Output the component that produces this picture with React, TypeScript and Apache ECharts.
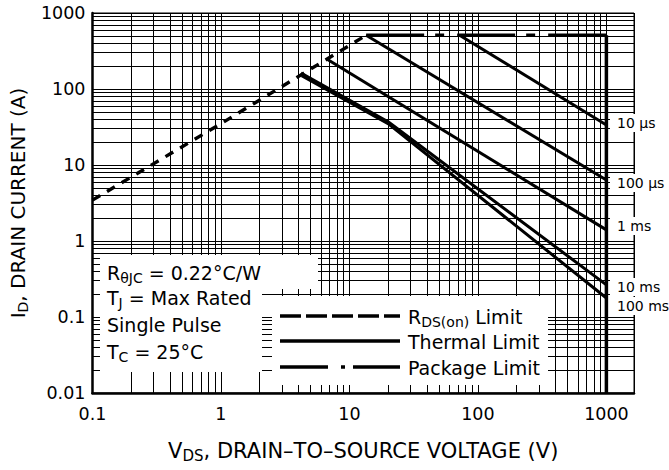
import React, { useEffect, useRef } from "react";
import * as echarts from "echarts";

// ---- axis ticks ----
const xTicks = [0.1, 1, 10, 100, 1000];
const yTicks = [0.01, 0.1, 1, 10, 100, 1000];
const X_MIN = 0.1;
const X_MAX = 1640;
const Y_MIN = 0.01;
const Y_MAX = 1000;
const xDecades = [0.1, 1, 10, 100];
const yDecades = [0.01, 0.1, 1, 10, 100];
const minorSteps = [2, 3, 4, 5, 6, 7, 8, 9];

// ---- curves (V, A) ----
const rdsLimit = [[0.1, 3.45], [1, 35], [13.5, 510]];
const packageLimit = [[13.5, 510], [1000, 510]];
const voltageLimit = [[1000, 510], [1000, 0.01]];
const t10us = [[72, 510], [1000, 33.6]];
const t100us = [[13.5, 510], [1000, 6.35]];
const t1ms = [[6.66, 248], [1000, 1.4]];
const t10ms = [[4.2, 162], [20, 37], [1000, 0.265]];
const t100ms = [[4.25, 150], [20, 35], [1000, 0.178]];

const pulseLabels = ["10 µs", "100 µs", "1 ms", "10 ms", "100 ms"];

const FONT = '"DejaVu Sans", sans-serif';

const xMinor = xDecades.flatMap((d) => minorSteps.map((m) => +(d * m).toPrecision(3)));
const yMinor = yDecades.flatMap((d) => minorSteps.map((m) => +(d * m).toPrecision(3)));

const fmtPow = (v: number) => {
  const l = Math.log10(v);
  if (Math.abs(l - Math.round(l)) > 1e-6) return "";
  return String(+v.toPrecision(1));
};

const rich = (size: number) => ({
  n: { fontFamily: FONT, fontSize: size, color: "#000", lineHeight: 24, verticalAlign: "middle" },
  s: { fontFamily: FONT, fontSize: Math.round(size * 0.72), color: "#000", lineHeight: 12, verticalAlign: "bottom" },
});

export default function App() {
  const ref = useRef<HTMLDivElement>(null);
  useEffect(() => {
    if (!ref.current) return;
    const chart = echarts.init(ref.current, null, { renderer: "svg" });

    const curve = (name: string, data: number[][], width: number, type: any) => ({
      type: "line",
      name,
      data,
      symbol: "none",
      silent: true,
      z: 3,
      lineStyle: { color: "#000", width, type, cap: "butt" },
    });

    const annLines = [
      "{n|R}{s|θJC}{n| = 0.22°C/W}",
      "{n|T}{s|J}{n| = Max Rated}",
      "{n|Single Pulse}",
      "{n|T}{s|C}{n| = 25°C}",
    ];
    const annY = [273, 298, 325, 352];
    const labelY = [123, 183, 226, 287, 306];

    const graphics: any[] = [
      { type: "rect", z: 2, shape: { x: 100, y: 255, width: 218, height: 34 }, style: { fill: "#fff" } },
      { type: "rect", z: 2, shape: { x: 100, y: 288, width: 162, height: 84 }, style: { fill: "#fff" } },
      { type: "rect", z: 2, shape: { x: 272, y: 296, width: 276, height: 89 }, style: { fill: "#fff" } },
      ...labelY.map((y) => ({
        type: "rect",
        z: 2,
        shape: { x: 610, y: y - 9, width: 59, height: 18 },
        style: { fill: "#fff" },
      })),
      ...annLines.map((t, i) => ({
        type: "text",
        z: 5,
        x: 107,
        y: annY[i],
        style: { text: t, rich: rich(19), verticalAlign: "middle", align: "left" },
      })),
      ...pulseLabels.map((t, i) => ({
        type: "text",
        z: 5,
        x: 617,
        y: labelY[i],
        style: { text: t, fontFamily: FONT, fontSize: 14, fill: "#000", verticalAlign: "middle", align: "left" },
      })),
      // legend
      { type: "line", z: 5, shape: { x1: 280, y1: 316, x2: 400, y2: 316 }, style: { stroke: "#000", lineWidth: 3.5, lineDash: [21, 5] } },
      { type: "line", z: 5, shape: { x1: 280, y1: 341, x2: 400, y2: 341 }, style: { stroke: "#000", lineWidth: 3.5 } },
      { type: "line", z: 5, shape: { x1: 280, y1: 367, x2: 400, y2: 367 }, style: { stroke: "#000", lineWidth: 3.5, lineDash: [48, 13, 4, 8] } },
      { type: "text", z: 5, x: 408, y: 317, style: { text: "{n|R}{s|DS(on)}{n| Limit}", rich: rich(19), verticalAlign: "middle" } },
      { type: "text", z: 5, x: 408, y: 342, style: { text: "{n|Thermal Limit}", rich: rich(19), verticalAlign: "middle" } },
      { type: "text", z: 5, x: 408, y: 368, style: { text: "{n|Package Limit}", rich: rich(19), verticalAlign: "middle" } },
    ];

    chart.setOption({
      animation: false,
      backgroundColor: "#fff",
      grid: { left: 84, top: 13, width: 550, height: 380, show: true, borderColor: "#000", borderWidth: 1, z: 0 },
      xAxis: {
        type: "log",
        logBase: 10,
        min: X_MIN,
        max: X_MAX,
        z: 0,
        name: "{n|V}{s|DS}{n|, DRAIN–TO–SOURCE VOLTAGE (V)}",
        nameLocation: "middle",
        nameGap: 46,
        nameTextStyle: { rich: rich(21) },
        axisLine: { lineStyle: { color: "#000", width: 2.5 } },
        axisTick: { show: false },
        axisLabel: {
          formatter: (v: number) => (xTicks.some((t) => Math.abs(t - v) / t < 1e-6) ? fmtPow(v) : ""),
          fontFamily: FONT,
          fontSize: 17.5,
          color: "#000",
          margin: 12,
        },
        splitLine: { show: true, lineStyle: { color: "#000", width: 1 } },
      },
      yAxis: {
        type: "log",
        logBase: 10,
        min: Y_MIN,
        max: Y_MAX,
        z: 0,
        name: "{n|I}{s|D}{n|, DRAIN CURRENT (A)}",
        nameLocation: "middle",
        nameGap: 62,
        nameRotate: 90,
        nameTextStyle: { rich: rich(20) },
        axisLine: { lineStyle: { color: "#000", width: 2.5 } },
        axisTick: { show: false },
        axisLabel: {
          formatter: (v: number) => (yTicks.some((t) => Math.abs(t - v) / t < 1e-6) ? fmtPow(v) : ""),
          fontFamily: FONT,
          fontSize: 17.5,
          color: "#000",
          margin: 7,
        },
        splitLine: { show: true, lineStyle: { color: "#000", width: 1 } },
      },
      series: [
        {
          type: "line",
          name: "grid",
          data: [[1, 1]],
          symbol: "none",
          silent: true,
          z: 1,
          lineStyle: { opacity: 0 },
          markLine: {
            z: 1,
            silent: true,
            symbol: ["none", "none"],
            label: { show: false },
            lineStyle: { color: "#000", width: 1, type: "solid" },
            data: [...xMinor.map((v) => ({ xAxis: v })), ...yMinor.map((v) => ({ yAxis: v }))],
          },
        },
        curve("RDS(on) Limit", rdsLimit, 3.4, [9, 8]),
        curve("Package Limit", packageLimit, 3.5, [58, 11, 9, 13]),
        curve("Voltage Limit", voltageLimit, 3.5, "solid"),
        curve("10 µs", t10us, 3, "solid"),
        curve("100 µs", t100us, 3, "solid"),
        curve("1 ms", t1ms, 3, "solid"),
        curve("10 ms", t10ms, 3, "solid"),
        curve("100 ms", t100ms, 3, "solid"),
      ],
      graphic: graphics,
    });
    return () => chart.dispose();
  }, []);
  return <div ref={ref} style={{ width: 669, height: 470, position: "absolute", left: 0, top: 0 }} />;
}
